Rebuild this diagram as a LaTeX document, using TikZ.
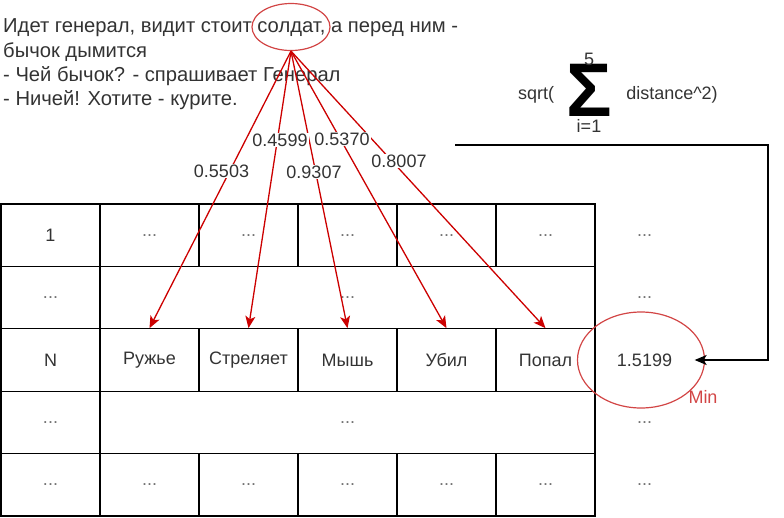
\documentclass[tikz,border=0pt]{standalone}
\usepackage{fontspec}
\setmainfont{Liberation Sans}
\usepackage{tikz}
\usetikzlibrary{shapes.geometric,arrows.meta}
\definecolor{txtgray}{HTML}{333333}
\definecolor{linered}{HTML}{CC0000}
\definecolor{ringred}{HTML}{D24545}
\tikzstyle{every picture}+=[remember picture]

\begin{document}
\begin{tikzpicture}[x=1pt,y=-1pt,
  txt/.style={text=txtgray, font=\fontsize{18}{22}\selectfont},
  cell/.style={txt, draw=black, line width=1.3pt, minimum width=99pt, minimum height=62.4pt, inner sep=0pt},
  widecell/.style={cell, minimum width=495pt},
  freecell/.style={cell, draw=none},
  dots/.style={text=black!55},
  weight/.style={txt, fill=white, inner sep=1pt},
  redarrow/.style={draw=linered, line width=1.3pt, -{Stealth[length=12pt,width=10pt,inset=3pt]}},
  ring/.style={draw=ringred, line width=1.2pt, ellipse, inner sep=0pt}]
\useasboundingbox (0,0) rectangle (784,517);
\node[txt, anchor=north west, inner sep=0pt, align=left, font=\fontsize{20.2}{24.3}\selectfont] (story) at (3,18.7)
  {Идет генерал, видит стоит солдат, а перед ним -\\бычок дымится\\- Чей бычок? - спрашивает Генерал\\- Ничей! Хотите - курите.};
\node[ring, minimum width=78pt, minimum height=47pt] (soldat) at (291,27) {};
\node[txt] (sqrtl) at (536,95) {sqrt(};
\node[font=\fontsize{76}{76}\bfseries, inner sep=0pt] (sigma) at (589,90) {Σ};
\node[txt, inner sep=0pt] (upper) at (589,59) {5};
\node[txt, inner sep=0pt] (lower) at (589,126) {i=1};
\node[txt] (dist) at (672,95) {distance\^{}2)};
\node[cell] (n1) at (50.5,235.2) {1};
\node[cell,dots] (c12) at (149.5,235.2) {...};
\node[cell,dots] (c13) at (248.5,235.2) {...};
\node[cell,dots] (c14) at (347.5,235.2) {...};
\node[cell,dots] (c15) at (446.5,235.2) {...};
\node[cell,dots] (c16) at (545.5,235.2) {...};
\node[freecell,dots] (c17) at (644.5,235.2) {...};
\node[cell,dots] (c21) at (50.5,297.6) {...};
\node[widecell,dots] (c22) at (347.5,297.6) {...};
\node[freecell,dots] (c27) at (644.5,297.6) {...};
\node[cell] (nn) at (50.5,360) {N};
\node[cell] (ruzhye) at (149.5,360) {Ружье};
\node[cell] (strelyaet) at (248.5,360) {Стреляет};
\node[cell] (mysh) at (347.5,360) {Мышь};
\node[cell] (ubil) at (446.5,360) {Убил};
\node[cell] (popal) at (545.5,360) {Попал};
\node[freecell] (dist5) at (644.5,360) {1.5199};
\node[cell,dots] (c41) at (50.5,422.4) {...};
\node[widecell,dots] (c42) at (347.5,422.4) {...};
\node[freecell,dots] (c47) at (644.5,422.4) {...};
\node[cell,dots] (c51) at (50.5,484.8) {...};
\node[cell,dots] (c52) at (149.5,484.8) {...};
\node[cell,dots] (c53) at (248.5,484.8) {...};
\node[cell,dots] (c54) at (347.5,484.8) {...};
\node[cell,dots] (c55) at (446.5,484.8) {...};
\node[cell,dots] (c56) at (545.5,484.8) {...};
\node[freecell,dots] (c57) at (644.5,484.8) {...};
\draw[redarrow] (soldat.south) -- (ruzhye.north);
\draw[redarrow] (soldat.south) -- (strelyaet.north);
\draw[redarrow] (soldat.south) -- (mysh.north);
\draw[redarrow] (soldat.south) -- (ubil.north);
\draw[redarrow] (soldat.south) -- (popal.north);
\node[weight] (w1) at (221.5,171) {0.5503};
\node[weight] (w2) at (280,140) {0.4599};
\node[weight] (w3) at (314,172) {0.9307};
\node[weight] (w4) at (342,139) {0.5370};
\node[weight] (w5) at (399,161) {0.8007};
\node[ring, minimum width=127pt, minimum height=96pt] (minring) at (641,360) {};
\node[txt, text=ringred] (minlabel) at (703,397) {Min};
\coordinate (fstart) at (455,145);
\coordinate (fturn) at (768,145);
\draw[line width=1.3pt, -{Stealth[length=12pt,width=10pt,inset=3pt]}] (fstart) -- (fturn) |- (dist5.east);
\end{tikzpicture}
\end{document}
